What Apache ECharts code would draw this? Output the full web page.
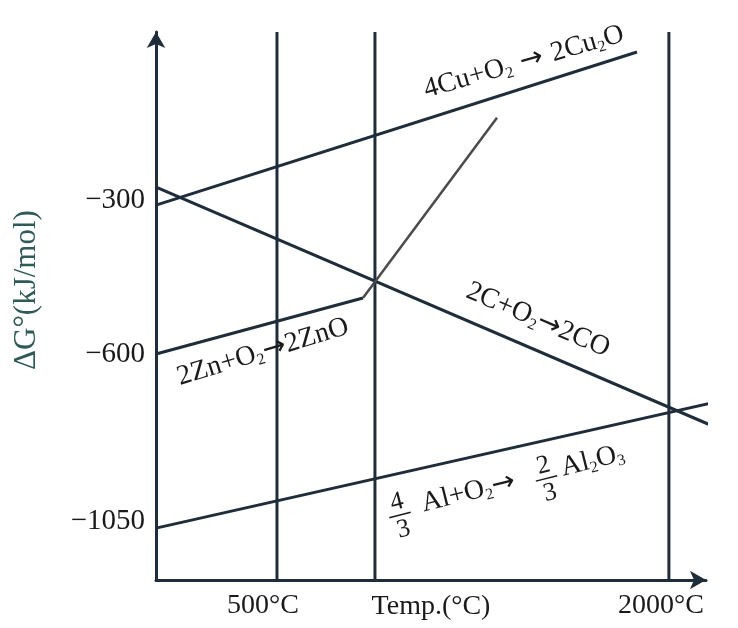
<!DOCTYPE html>
<html><head><meta charset="utf-8">
<script src="https://cdn.jsdelivr.net/npm/echarts@6/dist/echarts.min.js"></script>
<style>html,body{margin:0;padding:0;background:#fff}#c{width:738px;height:628px}</style>
</head><body><div id="c"></div>
<script>
// ---- data (temperature in °C, ΔG° in diagram units; schematic, not to scale) ----
const xRange = [37, 2142];
const yRange = [-1040, 27];
const refTemps = [500, 875, 2000];
const xTickValues = [500, 2000];
const xTickLabels = ['500°C', '2000°C'];
const xAxisTitle = 'Temp.(°C)';
const yTickValues = [-300, -600, -925];
const yTickLabels = ['\u2212300', '\u2212600', '\u22121050'];
const yAxisTitle = 'ΔG°(kJ/mol)';
const cuLine = [[37, -310], [1878, -12]];
const cLine = [[37, -275], [2176, -742]];
const znLine = [[37, -600], [829, -491], [1342, -140]];
const alLine = [[37, -939], [2245, -686]];

const NAVY = '#1f2d3b';
const GREY = '#4a4a4a';
const TXT = '#1a1a1a';
const SERIF = '"Liberation Serif", "DejaVu Serif", serif';
const SANS = '"DejaVu Sans", sans-serif';

function lineSeries(data, color, width) {
  return {
    type: 'line', data: data, symbol: 'none', clip: false, silent: true,
    lineStyle: { color: color, width: width || 3 }, z: 3
  };
}
const series = [];
refTemps.forEach(t => series.push(lineSeries([[t, yRange[0]], [t, yRange[1]]], NAVY, 3)));
series.push(lineSeries(cuLine, NAVY));
series.push(lineSeries(cLine, NAVY));
series.push(lineSeries(znLine.slice(0, 2), NAVY));
series.push(lineSeries(znLine.slice(1), GREY, 2.5));
series.push(lineSeries(alLine, NAVY));

const rich = {
  m: { fontFamily: SERIF, fontSize: 28, lineHeight: 30, fill: TXT, color: TXT },
  a: { fontFamily: SANS, fontSize: 28, lineHeight: 30, fill: TXT, color: TXT },
  s: { fontFamily: SERIF, fontSize: 16, lineHeight: 14, verticalAlign: 'bottom', fill: TXT, color: TXT }
};
function label(text, x, y, deg, align) {
  return {
    type: 'text', x: x, y: y, rotation: deg * Math.PI / 180, z: 10,
    style: {
      text: text, rich: rich, fill: TXT,
      font: '28px ' + SERIF,
      align: align || 'center', verticalAlign: 'middle',
      textAlign: align || 'center', textVerticalAlign: 'middle'
    }
  };
}
function frac(num, den, x) {
  const st = (t, y) => ({ type: 'text', x: x, y: y, style: { text: t, font: '26px ' + SERIF, fill: TXT, align: 'center', verticalAlign: 'middle', textAlign: 'center', textVerticalAlign: 'middle' } });
  return [
    st(num, -13),
    { type: 'line', shape: { x1: x - 11, y1: 0, x2: x + 11, y2: 0 }, style: { stroke: TXT, lineWidth: 1.5 } },
    st(den, 15)
  ];
}

const chart = echarts.init(document.getElementById('c'), null, { renderer: 'canvas' });
chart.setOption({
  animation: false,
  backgroundColor: '#fff',
  grid: { left: 156, right: 32, top: 32, bottom: 48, containLabel: false, outerBoundsMode: 'none' },
  xAxis: {
    type: 'value', min: xRange[0], max: xRange[1],
    name: xAxisTitle, nameLocation: 'middle', nameGap: 13, nameMoveOverlap: false,
    nameTextStyle: { fontFamily: SERIF, fontSize: 28, color: TXT, verticalAlign: 'top' },
    axisLine: { show: true, onZero: false, symbol: ['none', 'arrow'], symbolSize: [14, 16], lineStyle: { color: NAVY, width: 3 } },
    axisTick: { show: false }, splitLine: { show: false },
    axisLabel: {
      customValues: xTickValues, margin: 12,
      formatter: v => { const i = xTickValues.indexOf(v); return i < 0 ? '' : '{t' + i + '|' + xTickLabels[i] + '}'; },
      rich: {
        t0: { fontFamily: SERIF, fontSize: 28, color: TXT, padding: [0, 28, 0, 0] },
        t1: { fontFamily: SERIF, fontSize: 28, color: TXT, padding: [0, 16, 0, 0] }
      }
    }
  },
  yAxis: {
    type: 'value', min: yRange[0], max: yRange[1],
    axisLine: { show: true, onZero: false, symbol: ['none', 'arrow'], symbolSize: [14, 16], lineStyle: { color: NAVY, width: 3 } },
    axisTick: { show: false }, splitLine: { show: false },
    axisLabel: {
      customValues: yTickValues, margin: 11,
      fontFamily: SERIF, fontSize: 29, color: TXT,
      formatter: v => { const i = yTickValues.indexOf(v); return i < 0 ? '' : yTickLabels[i]; }
    }
  },
  series: series,
  graphic: [
    {
      type: 'text', x: 27, y: 290, rotation: Math.PI / 2, z: 10,
      style: { text: yAxisTitle, font: '31px ' + SERIF, fill: '#2e5b58', align: 'center', verticalAlign: 'middle', textAlign: 'center', textVerticalAlign: 'middle' }
    },
    label('{m|4Cu+O}{s|2}{a| → }{m|2Cu}{s|2}{m|O}', 524, 62, 16),
    label('{m|2C+O}{s|2}{a|→}{m|2CO}', 538, 320, -23),
    label('{m|2Zn+O}{s|2}{a|→}{m|2ZnO}', 263, 352, 17),
    {
      type: 'group', x: 400, y: 515, rotation: 14 * Math.PI / 180, z: 10,
      children: [].concat(
        frac('4', '3', 0),
        [label('{m|Al+O}{s|2}{a|→}', 24, -5, 0, 'left')],
        frac('2', '3', 151),
        [label('{m|Al}{s|2}{m|O}{s|3}', 168, -6, 0, 'left')]
      )
    }
  ]
});
</script></body></html>
